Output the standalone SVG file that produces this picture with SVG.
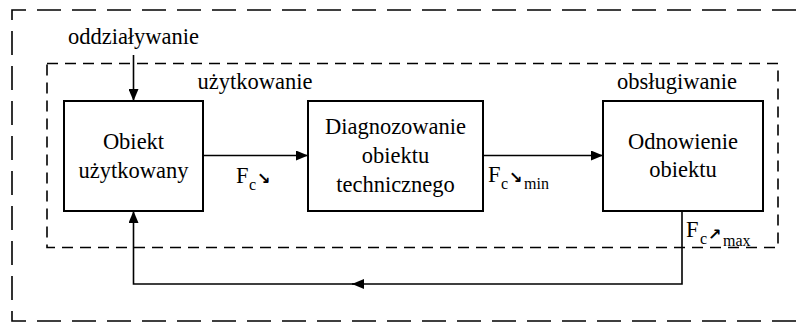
<svg xmlns="http://www.w3.org/2000/svg" width="805" height="325" viewBox="0 0 805 325">
  <style>
    text { font-family: "Liberation Serif", "Times New Roman", Times, "DejaVu Serif", serif; fill: #000; }
    .t { font-size: 22.5px; }
    .c { text-anchor: middle; }
    .sub { font-size: 16px; }
    .arr { font-family: "DejaVu Sans", sans-serif; font-size: 16px; font-weight: bold; }
    .box { fill: #fff; stroke: #000; stroke-width: 2; }
    .line { fill: none; stroke: #000; stroke-width: 1.6; }
    .outer { fill: none; stroke: #000; stroke-width: 1.6; stroke-dasharray: 24 11; }
    .inner { fill: none; stroke: #000; stroke-width: 1.6; stroke-dasharray: 11 7; }
  </style>
  <defs>
    <marker id="ah" viewBox="0 0 12 10" refX="12" refY="5" markerWidth="12" markerHeight="10" markerUnits="userSpaceOnUse" orient="auto">
      <path d="M0,0 L12,5 L0,10 Z" fill="#000"/>
    </marker>
  </defs>

  <!-- outer frame (open on the right) -->
  <path class="outer" d="M796 10 H12 V321 H796"/>
  <!-- inner frame -->
  <rect class="inner" x="47" y="63.5" width="731" height="184"/>

  <text class="t c" x="133.5" y="44">oddziaływanie</text>
  <text class="t c" x="255" y="89">użytkowanie</text>
  <text class="t c" x="677" y="89">obsługiwanie</text>

  <g id="connectors">
    <path class="line" d="M133.5 55 V101" marker-end="url(#ah)"/>
    <path class="line" d="M203 155.5 H308" marker-end="url(#ah)"/>
    <path class="line" d="M483 155.5 H603" marker-end="url(#ah)"/>
    <path class="line" d="M682 211 V284 H352" marker-end="url(#ah)"/>
    <path class="line" d="M360 284 H133.5 V211" marker-end="url(#ah)"/>
  </g>

  <g id="obiekt-uzytkowany">
    <rect class="box" x="64" y="101" width="139" height="110"/>
    <text class="t c" x="133.5" y="149">Obiekt</text>
    <text class="t c" x="133.5" y="178">użytkowany</text>
  </g>

  <g id="diagnozowanie">
    <rect class="box" x="308" y="101" width="175" height="110"/>
    <text class="t c" x="395.5" y="134">Diagnozowanie</text>
    <text class="t c" x="395.5" y="163">obiektu</text>
    <text class="t c" x="395.5" y="192">technicznego</text>
  </g>

  <g id="odnowienie">
    <rect class="box" x="603" y="101" width="160" height="110"/>
    <text class="t c" x="683" y="149">Odnowienie</text>
    <text class="t c" x="683" y="177">obiektu</text>
  </g>

  <!-- flow labels -->
  <g id="label-fc">
    <text class="t" x="236" y="183">F</text>
    <text class="sub" x="249" y="190">c</text>
    <text class="arr" x="257" y="184">↘</text>
  </g>
  <g id="label-fc-min">
    <text class="t" x="488" y="182">F</text>
    <text class="sub" x="501" y="189">c</text>
    <text class="arr" x="509" y="183">↘</text>
    <text class="sub" x="524" y="189">min</text>
  </g>
  <g id="label-fc-max">
    <text class="t" x="686" y="237">F</text>
    <text class="sub" x="700" y="244">c</text>
    <text class="arr" x="708" y="240">↗</text>
    <text class="sub" x="723" y="246">max</text>
  </g>
</svg>
